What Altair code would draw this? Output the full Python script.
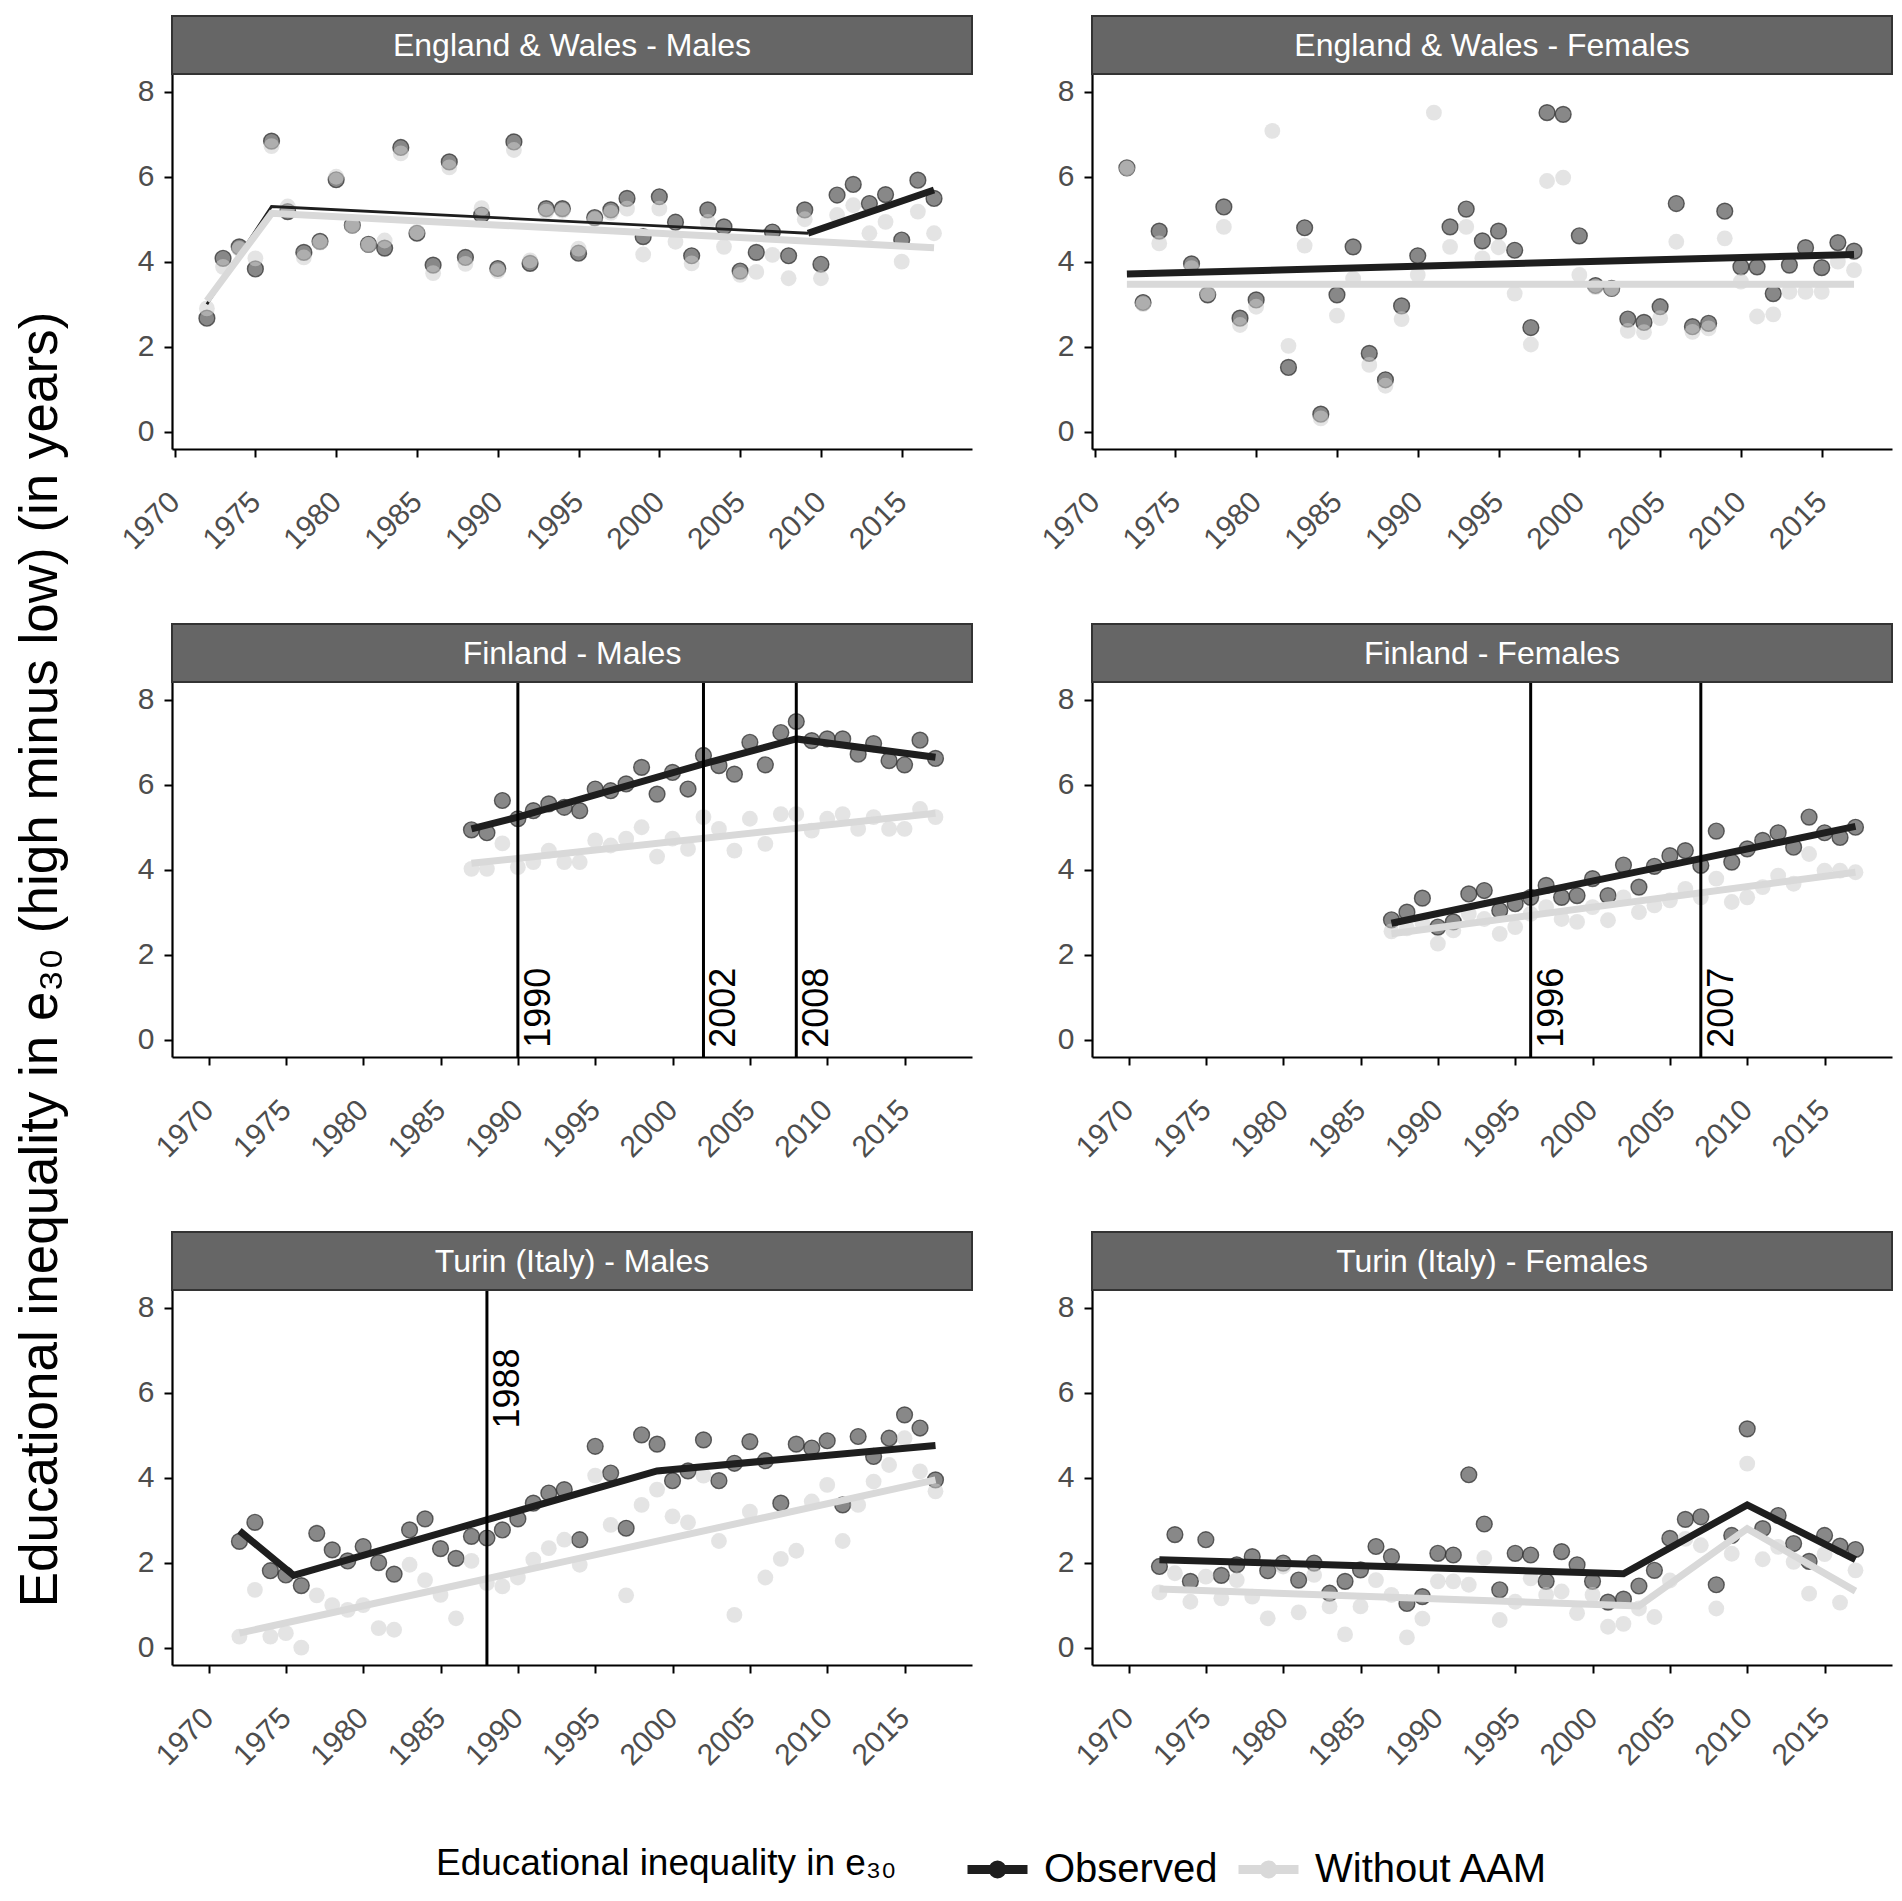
import altair as alt
import pandas as pd

FONT = "Liberation Sans"

# ---------------- data ----------------
YEARS_LONG = list(range(1972, 2018))
YEARS_FIN = list(range(1987, 2018))

ew_m_obs = [2.67, 4.08, 4.35, 3.83, 6.84, 5.18, 4.22, 4.48, 5.93, 4.86,
            4.41, 4.32, 6.69, 4.67, 3.92, 6.35, 4.10, 5.10, 3.84, 6.82,
            3.96, 5.25, 5.25, 4.20, 5.04, 5.22, 5.49, 4.59, 5.53, 4.93,
            4.14, 5.22, 4.82, 3.78, 4.22, 4.70, 4.14, 5.22, 3.94, 5.57,
            5.82, 5.37, 5.58, 4.51, 5.92, 5.49]
ew_m_wo = [2.90, 3.88, 4.30, 4.08, 6.72, 5.30, 4.10, 4.45, 6.00, 4.85,
           4.40, 4.50, 6.55, 4.70, 3.73, 6.22, 3.95, 5.26, 3.78, 6.63,
           4.03, 5.18, 5.20, 4.31, 5.00, 5.15, 5.25, 4.17, 5.25, 4.47,
           3.96, 4.94, 4.35, 3.69, 3.76, 4.16, 3.61, 5.00, 3.61, 5.10,
           5.33, 4.67, 4.94, 4.00, 5.18, 4.67]

ew_f_obs = [6.21, 3.04, 4.72, None, 3.95, 3.22, 5.29, 2.67, 3.10, None,
            1.51, 4.80, 0.41, 3.22, 4.35, 1.84, 1.22, 2.96, 4.14, None,
            4.82, 5.24, 4.49, 4.72, 4.27, 2.45, 7.51, 7.47, 4.61, 3.44,
            3.37, 2.65, 2.57, 2.94, 5.37, 2.47, 2.55, 5.19, 3.88, 3.88,
            3.25, 3.92, 4.33, 3.86, 4.45, 4.25]
ew_f_wo = [6.20, 3.00, 4.43, None, 3.85, 3.25, 4.82, 2.51, 2.94, 7.08,
           2.02, 4.38, 0.31, 2.73, 3.60, 1.57, 1.08, 2.65, 3.69, 7.51,
           4.35, 4.82, 4.08, 4.34, 3.25, 2.05, 5.90, 5.98, 3.69, 3.40,
           3.37, 2.37, 2.34, 2.67, 4.47, 2.35, 2.43, 4.55, 3.53, 2.71,
           2.76, 3.29, 3.29, 3.29, 4.00, 3.80]

fi_m_obs = [4.94, 4.87, 5.63, 5.20, 5.39, 5.55, 5.47, 5.39, 5.90, 5.86,
            6.02, 6.41, 5.78, 6.29, 5.90, 6.69, 6.45, 6.25, 7.00, 6.47,
            7.23, 7.49, 7.04, 7.08, 7.08, 6.72, 6.97, 6.57, 6.47, 7.05, 6.62]
fi_m_wo = [4.02, 4.02, 4.62, 4.06, 4.18, 4.45, 4.18, 4.18, 4.69, 4.57,
           4.73, 5.00, 4.31, 4.73, 4.49, 5.24, 4.96, 4.45, 5.20, 4.61,
           5.31, 5.31, 4.92, 5.20, 5.31, 4.96, 5.24, 4.96, 4.96, 5.43, 5.24]

fi_f_obs = [2.82, 3.00, 3.33, 2.65, 2.77, 3.43, 3.51, 3.04, 3.20, 3.35,
            3.63, 3.35, 3.39, 3.79, 3.39, 4.11, 3.59, 4.08, 4.33, 4.45,
            4.10, 4.91, 4.18, 4.49, 4.69, 4.87, 4.53, 5.24, 4.87, 4.76, 5.00]
fi_f_wo = [2.55, 2.62, 2.75, 2.26, 2.57, 2.96, 2.84, 2.49, 2.65, 2.96,
           3.12, 2.84, 2.77, 3.12, 2.81, 3.35, 3.00, 3.16, 3.28, 3.55,
           3.35, 3.79, 3.24, 3.35, 3.59, 3.86, 3.67, 4.37, 3.98, 3.98, 3.94]

tu_m_obs = [2.50, 2.95, 1.81, 1.71, 1.46, 2.69, 2.30, 2.04, 2.38, 2.00,
            1.73, 2.77, 3.03, 2.33, 2.10, 2.62, 2.58, 2.77, 3.03, 3.40,
            3.64, 3.72, 2.54, 4.74, 4.11, 2.81, 5.01, 4.79, 3.93, 4.16,
            4.89, 3.93, 4.34, 4.85, 4.40, 3.40, 4.79, 4.70, 4.87, 3.36,
            4.97, 4.50, 4.93, 5.48, 5.17, 3.95]
tu_m_wo = [0.26, 1.36, 0.26, 0.34, 0.00, 1.23, 1.00, 0.89, 1.00, 0.46,
           0.42, 1.95, 1.59, 1.24, 0.69, 2.04, 1.52, 1.44, 1.65, 2.07,
           2.34, 2.54, 1.95, 4.05, 2.89, 1.23, 3.36, 3.72, 3.09, 2.95,
           4.05, 2.51, 0.77, 3.20, 1.65, 2.09, 2.28, 3.44, 3.83, 2.51,
           3.36, 3.91, 4.30, 4.93, 4.15, 3.68]

tu_f_obs = [1.91, 2.66, 1.56, 2.54, 1.70, 1.95, 2.14, 1.81, 1.99, 1.59,
            1.99, 1.28, 1.56, 1.83, 2.38, 2.14, 1.04, 1.20, 2.22, 2.18,
            4.07, 2.91, 1.36, 2.22, 2.18, 1.56, 2.26, 1.95, 1.56, 1.07,
            1.14, 1.45, 1.82, 2.57, 3.02, 3.08, 1.48, 2.64, 5.15, 2.80,
            3.11, 2.45, 2.03, 2.64, 2.39, 2.31]
tu_f_wo = [1.30, 1.75, 1.08, 1.67, 1.16, 1.59, 1.20, 0.69, 1.91, 0.83,
           1.71, 0.97, 0.31, 0.97, 1.59, 1.24, 0.24, 0.68, 1.56, 1.56,
           1.48, 2.11, 0.65, 1.08, 1.63, 1.24, 1.32, 0.81, 1.24, 0.49,
           0.56, 0.92, 0.72, 1.58, 2.56, 2.41, 0.92, 2.21, 4.33, 2.08,
           2.37, 2.02, 1.27, 2.20, 1.06, 1.82]

# fitted (segmented) trend lines: breakpoint years and values
ew_m_obs_fit1_x = [1972, 1976, 2009.2]
ew_m_obs_fit1_y = [3.00, 5.30, 4.67]
ew_m_obs_fit2_x = [2009.2, 2017]
ew_m_obs_fit2_y = [4.67, 5.69]
ew_m_wo_fit_x = [1972, 1976, 2017]
ew_m_wo_fit_y = [3.08, 5.14, 4.33]

ew_f_obs_fit_x = [1972, 2017]
ew_f_obs_fit_y = [3.71, 4.17]
ew_f_wo_fit_x = [1972, 2017]
ew_f_wo_fit_y = [3.47, 3.47]

fi_m_obs_fit_x = [1987, 1990, 2002, 2008, 2017]
fi_m_obs_fit_y = [4.96, 5.24, 6.49, 7.08, 6.65]
fi_m_wo_fit_x = [1987, 2017]
fi_m_wo_fit_y = [4.15, 5.33]

fi_f_obs_fit_x = [1987, 1996, 2007, 2017]
fi_f_obs_fit_y = [2.74, 3.43, 4.26, 5.02]
fi_f_wo_fit_x = [1987, 2017]
fi_f_wo_fit_y = [2.49, 3.94]

tu_m_obs_fit_x = [1972, 1975.5, 1999, 2017]
tu_m_obs_fit_y = [2.75, 1.70, 4.16, 4.76]
tu_m_wo_fit_x = [1972, 2017]
tu_m_wo_fit_y = [0.34, 3.95]

tu_f_obs_fit_x = [1972, 2002, 2010, 2017]
tu_f_obs_fit_y = [2.07, 1.74, 3.36, 2.07]
tu_f_wo_fit_x = [1972, 2003, 2010, 2017]
tu_f_wo_fit_y = [1.38, 0.98, 2.80, 1.33]

fi_m_breaks = [1990, 2002, 2008]
fi_f_breaks = [1996, 2007]
tu_m_breaks = [1988]

X_TICKS = [1970, 1975, 1980, 1985, 1990, 1995, 2000, 2005, 2010, 2015]
Y_TICKS = [0, 2, 4, 6, 8]
Y_DOMAIN = [-0.41, 8.42]
X_DOMAIN_EW = [1969.84, 2019.35]
X_DOMAIN_OTHER = [1967.64, 2019.36]

SERIES = ["Observed", "Without AAM"]
LINE_COLORS = ["#1e1e1e", "#d9d9d9"]

Y_TITLE = "Educational inequality in  e\u2083\u2080 (high minus low) (in years)"
LEGEND_TITLE = "Educational inequality in  e\u2083\u2080"

# ---------------- layout ----------------
W = 800
H = 375
SH = 58

color_scale = alt.Scale(domain=SERIES, range=LINE_COLORS)
legend = alt.Legend(
    title=LEGEND_TITLE, orient="none", direction="horizontal",
    legendX=264, legendY=1761, titleOrient="left",
    titleFontSize=37, titleFont=FONT, titleFontWeight="normal", titleColor="black",
    titleBaseline="middle", titlePadding=56, titleLimit=900,
    labelFontSize=40, labelFont=FONT, labelColor="black", labelOffset=12,
    labelLimit=500,
    symbolType="M-1,0L1,0M-0.15,0A0.15,0.15 0 1,0 0.15,0A0.15,0.15 0 1,0 -0.15,0",
    symbolSize=3600, symbolStrokeWidth=9, columnPadding=2,
)


def fit_df(xs, ys, series, seg, lw):
    return pd.DataFrame({"year": xs, "value": ys, "series": series,
                         "seg": seg, "lw": lw})


def panel(label, years, obs, wo, obs_fits, wo_fits, xdom, breaks=None, lab_y=None,
          ytitle=False):
    xs = alt.Scale(domain=xdom, nice=False, zero=False)
    ys = alt.Scale(domain=Y_DOMAIN, nice=False, zero=False)
    xaxis = alt.Axis(values=X_TICKS, format="d", title=None, labelAngle=-45,
                     labelAlign="right", labelBaseline="middle", labelPadding=40)
    if ytitle:
        yaxis = alt.Axis(values=Y_TICKS, title=Y_TITLE, titleFontSize=53,
                         titleFont=FONT, titleFontWeight="normal", titleColor="black",
                         titleAngle=270, titleAlign="center", titleBaseline="alphabetic",
                         titleX=-116, titleY=277, titleLimit=1700, labelPadding=10)
    else:
        yaxis = alt.Axis(values=Y_TICKS, title=None, labelPadding=10)
    X = alt.X("year:Q", scale=xs, axis=xaxis)
    Y = alt.Y("value:Q", scale=ys, axis=yaxis)

    pts_obs = pd.DataFrame({"year": years, "value": obs}).dropna()
    pts_wo = pd.DataFrame({"year": years, "value": wo}).dropna()

    # facet strip drawn above the plot area
    sdf = pd.DataFrame({"label": [label]})
    strip_rect = alt.Chart(sdf).mark_rect(fill="#666666", stroke="#333333", strokeWidth=2).encode(
        x=alt.value(0), x2=alt.value(W), y=alt.value(-SH), y2=alt.value(0))
    strip_txt = alt.Chart(sdf).mark_text(color="#ffffff", fontSize=32, font=FONT).encode(
        x=alt.value(W / 2), y=alt.value(-SH / 2 + 1), text="label:N")

    layer_obs = alt.Chart(pts_obs).mark_circle(
        size=250, fill="#555555", fillOpacity=0.7, stroke="#333333",
        strokeOpacity=0.75, strokeWidth=1.4).encode(x=X, y=Y)
    layer_wo = alt.Chart(pts_wo).mark_circle(
        size=250, fill="#cdcdcd", fillOpacity=0.55).encode(x=X, y=Y)

    obs_df = pd.concat([fit_df(fx, fy, SERIES[0], f"o{i}", lw)
                        for i, (fx, fy, lw) in enumerate(obs_fits)])
    wo_df = pd.concat([fit_df(fx, fy, SERIES[1], f"w{i}", lw)
                       for i, (fx, fy, lw) in enumerate(wo_fits)])

    def line_layer(df):
        return alt.Chart(df).mark_line(strokeCap="butt", strokeJoin="miter").encode(
            x=X, y=Y,
            color=alt.Color("series:N", scale=color_scale, legend=legend),
            size=alt.Size("lw:Q", scale=None),
            detail="seg:N")

    layers = [layer_obs, layer_wo, line_layer(obs_df), line_layer(wo_df)]

    if breaks:
        bdf = pd.DataFrame({"year": breaks, "label": [str(b) for b in breaks],
                            "value": [lab_y] * len(breaks)})
        rule = alt.Chart(bdf).mark_rule(color="black", strokeWidth=3).encode(x=X)
        txt = alt.Chart(bdf).mark_text(angle=270, align="center", baseline="top",
                                       fontSize=36, font=FONT, color="black",
                                       dy=4).encode(x=X, y=Y, text="label:N")
        layers += [rule, txt]

    layers += [strip_rect, strip_txt]
    return alt.layer(*layers).properties(width=W, height=H)


p1 = panel("England & Wales - Males", YEARS_LONG, ew_m_obs, ew_m_wo,
           [(ew_m_obs_fit1_x, ew_m_obs_fit1_y, 2.8), (ew_m_obs_fit2_x, ew_m_obs_fit2_y, 7)],
           [(ew_m_wo_fit_x, ew_m_wo_fit_y, 7)], X_DOMAIN_EW)
p2 = panel("England & Wales - Females", YEARS_LONG, ew_f_obs, ew_f_wo,
           [(ew_f_obs_fit_x, ew_f_obs_fit_y, 7)],
           [(ew_f_wo_fit_x, ew_f_wo_fit_y, 7)], X_DOMAIN_EW)
p3 = panel("Finland - Males", YEARS_FIN, fi_m_obs, fi_m_wo,
           [(fi_m_obs_fit_x, fi_m_obs_fit_y, 7)],
           [(fi_m_wo_fit_x, fi_m_wo_fit_y, 7)], X_DOMAIN_OTHER,
           breaks=fi_m_breaks, lab_y=0.75, ytitle=True)
p4 = panel("Finland - Females", YEARS_FIN, fi_f_obs, fi_f_wo,
           [(fi_f_obs_fit_x, fi_f_obs_fit_y, 7)],
           [(fi_f_wo_fit_x, fi_f_wo_fit_y, 7)], X_DOMAIN_OTHER,
           breaks=fi_f_breaks, lab_y=0.75)
p5 = panel("Turin (Italy) - Males", YEARS_LONG, tu_m_obs, tu_m_wo,
           [(tu_m_obs_fit_x, tu_m_obs_fit_y, 7)],
           [(tu_m_wo_fit_x, tu_m_wo_fit_y, 7)], X_DOMAIN_OTHER,
           breaks=tu_m_breaks, lab_y=6.1)
p6 = panel("Turin (Italy) - Females", YEARS_LONG, tu_f_obs, tu_f_wo,
           [(tu_f_obs_fit_x, tu_f_obs_fit_y, 7)],
           [(tu_f_wo_fit_x, tu_f_wo_fit_y, 7)], X_DOMAIN_OTHER)

chart = alt.concat(p1, p2, p3, p4, p5, p6, columns=2, bounds="flush",
                   spacing={"row": 175 + SH, "column": 120}).properties(
    padding={"top": 7, "left": 5, "right": 0, "bottom": 0}
).configure(
    font=FONT,
).configure_view(
    stroke=None
).configure_axis(
    grid=False, domainColor="black", domainWidth=2.2, tickColor="black",
    tickWidth=2, tickSize=8, labelFont=FONT, labelFontSize=30,
    labelColor="#4d4d4d",
)

chart.save("out.html", embed_options={"renderer": "svg", "actions": False})
